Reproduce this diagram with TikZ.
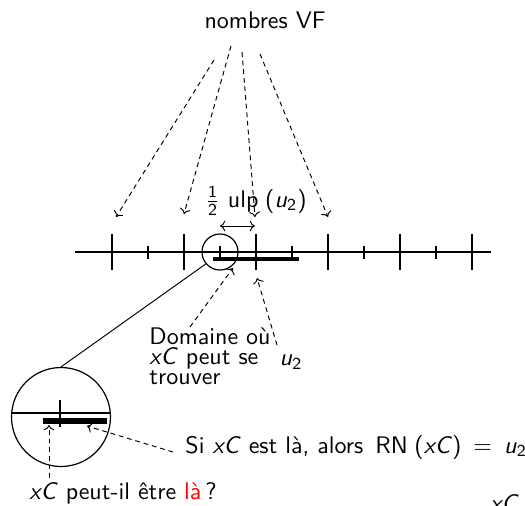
\documentclass[tikz,border=0pt]{standalone}
\usetikzlibrary{arrows.meta,calc}
\newcommand\mv[1]{\textit{#1}}
\newcommand\usub{\mv{u}\textsubscript{2}}
\begin{document}
\begin{tikzpicture}[x=0.4167pt,y=-0.4167pt,
  lbl/.style={font=\fontsize{10}{8.5}\selectfont\sffamily, inner sep=0pt},
  darrow/.style={dashed, dash pattern=on 2pt off 1.6pt, -{To[length=2.2pt,width=4.5pt]}, line width=0.4pt},
  bigtick/.style={line width=0.5pt},
  bar/.style={line width=1.4pt},
  zoomc/.style={draw, circle, inner sep=0pt, line width=0.5pt}]
\useasboundingbox (0,0) rectangle (525,505);
% number line
\coordinate (L) at (75,252);
\coordinate (R) at (491,252);
\draw[line width=0.5pt] (L) -- (R);
\foreach \x in {112,184,256,328,400,472}
  \draw[bigtick] (\x,234) -- (\x,270);
\foreach \x in {148,220,292,364,436}
  \draw[bigtick] (\x,245.5) -- (\x,258.5);
\draw[bar] (213,259) -- (299,259);
% small circle
\node[zoomc, minimum size=15pt] (zs) at (220,252) {};
% big circle
\node[zoomc, minimum size=41.25pt] (zb) at (61,417) {};
\draw (zs.220) -- (zb.north);
\draw[line width=0.5pt] (11.5,413) -- (110.5,413);
\draw[line width=0.5pt] (60,400) -- (60,427);
\draw[line width=2.2pt] (43,421) -- (107,421);
% labels
\node[lbl] (vf) at (265,20) {nombres VF};
\node[lbl] (ulp) at (256,201) {$\frac{\mathsf{1}}{\mathsf{2}}$ ulp\;(\usub)};
\coordinate (h1) at (220,226);
\coordinate (h2) at (255,226);
\draw[{To[length=2.2pt,width=4.5pt]}-{To[length=2.2pt,width=4.5pt]}, line width=0.4pt] (h1) -- (h2);
% arrows from nombres VF
\coordinate (a1s) at (214,60);  \coordinate (a1e) at (116,217);
\coordinate (a2s) at (231,46);  \coordinate (a2e) at (184,214);
\coordinate (a3s) at (242,52);  \coordinate (a3e) at (255,217);
\coordinate (a4s) at (260,54);  \coordinate (a4e) at (328,217);
\draw[darrow] (a1s) -- (a1e);
\draw[darrow] (a2s) -- (a2e);
\draw[darrow] (a3s) -- (a3e);
\draw[darrow] (a4s) -- (a4e);
% domaine
\node[lbl, anchor=north west, align=left] (dom) at (149,327)
  {Domaine o\`u\\\mv{xC} peut se\\trouver};
\coordinate (d1) at (190,327); \coordinate (d2) at (233,268);
\draw[darrow] (d1) -- (d2);
\node[lbl] (u2) at (291,362) {\usub};
\coordinate (e1) at (277,345); \coordinate (e2) at (257,278);
\draw[darrow] (e1) -- (e2);
% Si ...
\node[lbl, anchor=west] (si) at (185,447) {Si \mv{xC} est l\`a, alors\ \,RN\;(\mv{xC})\enspace=\enspace\usub};
\coordinate (s1) at (173,452); \coordinate (s2) at (87,426);
\draw[darrow] (s1) -- (s2);
% question
\node[lbl, anchor=west] (q) at (29,493) {\mv{xC} peut-il \^etre \textcolor{red}{l\`a}\,?};
\coordinate (q1) at (49,478); \coordinate (q2) at (49,425);
\draw[darrow] (q1) -- (q2);
% cropped label
\node[lbl, anchor=north west] (xc2) at (490,494) {\mv{xC}};
\end{tikzpicture}
\end{document}
